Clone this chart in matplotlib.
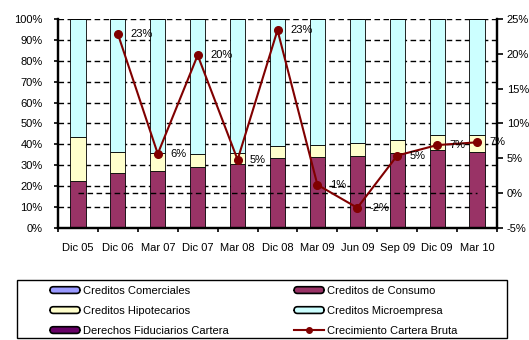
import numpy as np
import matplotlib
matplotlib.use("Agg")
import matplotlib.pyplot as plt
from matplotlib.patches import FancyBboxPatch, Rectangle
from matplotlib.legend_handler import HandlerPatch
from matplotlib.lines import Line2D
from matplotlib.ticker import FuncFormatter

plt.rcParams['font.family'] = ['Liberation Sans', 'DejaVu Sans']

categories = ["Dic 05", "Dic 06", "Mar 07", "Dic 07", "Mar 08", "Dic 08",
              "Mar 09", "Jun 09", "Sep 09", "Dic 09", "Mar 10"]

# Portfolio composition (% of total)
comerciales = [0.0, 0.0, 0.0, 0.0, 0.5, 0.5, 0.5, 0.5, 0.5, 0.5, 0.5]
consumo = [22.6, 26.3, 27.5, 29.1, 30.1, 33.1, 33.7, 34.1, 35.6, 36.9, 35.8]
hipotecarios = [21.0, 10.3, 8.5, 6.1, 5.5, 5.4, 5.4, 6.3, 5.8, 6.9, 8.3]
fiduciarios = [0.0, 0.0, 0.0, 0.0, 0.0, 0.0, 0.0, 0.0, 0.0, 0.0, 0.0]
microempresa = [100 - a - b - c - d for a, b, c, d in
                zip(comerciales, consumo, hipotecarios, fiduciarios)]

# Gross portfolio growth (%)
crecimiento = [np.nan, 22.85, 5.65, 19.8, 4.8, 23.4, 1.2, -2.1, 5.4, 6.9, 7.3]

col_com = "#9999FF"
col_con = "#993366"
col_hip = "#FFFFCC"
col_mic = "#CCFFFF"
col_fid = "#660066"
col_line = "#800000"

fig = plt.figure(figsize=(5.29, 3.40), dpi=100)
ax = fig.add_axes([58 / 529, 1 - 228 / 340, 439 / 529, 209 / 340])
ax2 = ax.twinx()

x = np.arange(len(categories))
w = 0.38
bottom = np.zeros(len(categories))
for vals, col in [(comerciales, col_com), (consumo, col_con),
                  (hipotecarios, col_hip), (microempresa, col_mic),
                  (fiduciarios, col_fid)]:
    v = np.array(vals)
    ax.bar(x, v, w, bottom=bottom, color=col, edgecolor="black",
           linewidth=0.6, zorder=2)
    bottom += v

ax.set_xlim(-0.5, len(categories) - 0.5)
ax.set_ylim(0, 100)
ax.set_yticks(np.arange(0, 101, 10))
ax.yaxis.set_major_formatter(FuncFormatter(lambda v, p: f"{v:.0f}%"))
for yv in np.arange(10, 101, 10):
    ax.axhline(yv, color="black", lw=1.0, ls=(0, (4, 2.5)), zorder=1)

ax.set_xticks(x)
ax.set_xticklabels(categories, fontsize=8)
ax.set_xticks(np.arange(-0.5, len(categories), 1.0), minor=True)
ax.tick_params(axis="x", which="major", length=0, pad=11)
ax.tick_params(axis="x", which="minor", length=3, width=1.2, direction="out")
ax.tick_params(axis="y", labelsize=8, length=3, width=1.2, pad=8)

ax2.set_ylim(-5, 25)
ax2.set_yticks(np.arange(-5, 26, 5))
ax2.yaxis.set_major_formatter(FuncFormatter(lambda v, p: f"{v:.0f}%"))
ax2.tick_params(axis="y", labelsize=8, length=4, width=1.2, pad=3)

for a in (ax, ax2):
    a.spines["top"].set_visible(False)
    a.spines["left"].set_linewidth(1.6)
    a.spines["right"].set_linewidth(1.6)
    a.spines["bottom"].set_linewidth(1.6)
    a.set_facecolor("none")

# secondary-axis zero line
ax2.hlines(0, x[0], x[-1], colors="black", lw=1.0, linestyles=(0, (4, 2.5)),
           zorder=2)

ax2.plot(x, crecimiento, color=col_line, lw=1.5, marker="o", markersize=5.5,
         zorder=3)
for xi, yi in zip(x, crecimiento):
    if np.isnan(yi):
        continue
    ax2.annotate(f"{yi:.0f}%", (xi, yi), xytext=(9, 0),
                 textcoords="offset points", ha="left", va="center",
                 fontsize=8, color="black", zorder=4)


class RoundPatchHandler(HandlerPatch):
    def create_artists(self, legend, orig_handle, xdescent, ydescent,
                       width, height, fontsize, trans):
        p = FancyBboxPatch((-xdescent, -ydescent), width, height,
                           boxstyle="round,pad=0,rounding_size=2.5",
                           facecolor=orig_handle.get_facecolor(),
                           edgecolor="black", linewidth=1.2,
                           transform=trans)
        return [p]


h_com = Rectangle((0, 0), 1, 1, facecolor=col_com)
h_con = Rectangle((0, 0), 1, 1, facecolor=col_con)
h_hip = Rectangle((0, 0), 1, 1, facecolor=col_hip)
h_mic = Rectangle((0, 0), 1, 1, facecolor=col_mic)
h_fid = Rectangle((0, 0), 1, 1, facecolor=col_fid)
h_line = Line2D([], [], color=col_line, lw=1.5, marker="o", markersize=4)

handles = [h_com, h_hip, h_fid, h_con, h_mic, h_line]
labels = ["Creditos Comerciales", "Creditos Hipotecarios",
          "Derechos Fiduciarios Cartera", "Creditos de Consumo",
          "Creditos Microempresa", "Crecimiento Cartera Bruta"]

leg = fig.legend(handles, labels, ncol=2, loc="upper left",
                 bbox_to_anchor=(50 / 529, 1 - 286 / 340),
                 frameon=False, fontsize=8, borderpad=0, borderaxespad=0,
                 handlelength=2.7, handleheight=0.55, handletextpad=0.25,
                 columnspacing=5.9, labelspacing=0.9,
                 handler_map={Rectangle: RoundPatchHandler()})

fig.patches.append(Rectangle((17 / 529, 2 / 340), 490 / 529, 58 / 340,
                             transform=fig.transFigure, facecolor="none",
                             edgecolor="black", linewidth=1.0))

fig.savefig("out.png", dpi=100)
